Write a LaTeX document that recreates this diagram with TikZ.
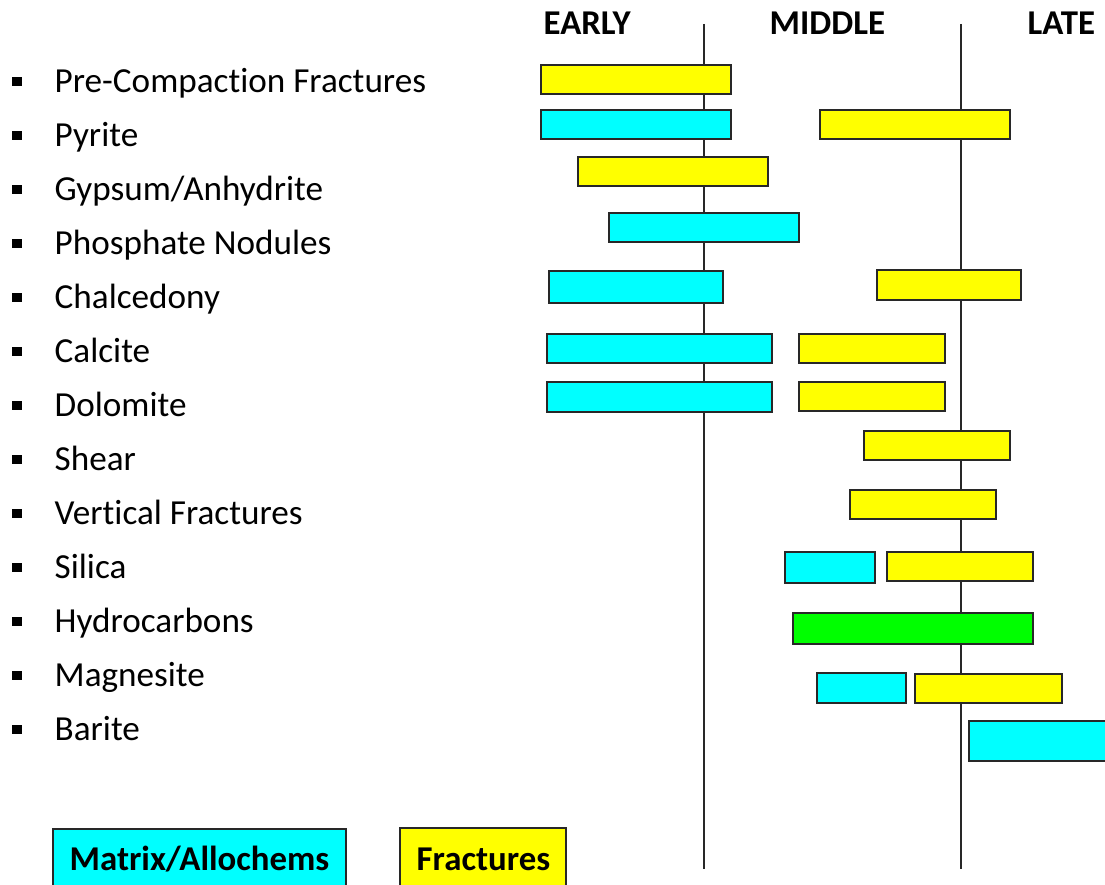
\documentclass[tikz,border=0pt]{standalone}
\usepackage{fontspec}
\setmainfont[Ligatures=NoCommon]{Carlito}
\usepackage{tikz}
\usetikzlibrary{positioning}

\definecolor{matrixcol}{RGB}{0,255,255}
\definecolor{fraccol}{RGB}{255,255,0}
\definecolor{hccol}{RGB}{0,255,0}
\definecolor{edgecol}{RGB}{40,40,40}

\begin{document}
\begin{tikzpicture}[x=0.01cm, y=-0.01cm,
  item/.style={anchor=base west, inner sep=0pt, font=\fontsize{10}{12}\selectfont},
  dot/.style={fill=black, inner sep=0pt, minimum width=0.095cm, minimum height=0.09cm},
  stage/.style={anchor=base west, inner sep=0pt, font=\fontsize{9.9}{12}\selectfont\bfseries},
  bar/.style={draw=edgecol, line width=0.6pt},
  matrixbar/.style={bar, fill=matrixcol},
  fracbar/.style={bar, fill=fraccol},
  hcbar/.style={bar, fill=hccol},
  divider/.style={draw=edgecol, line width=0.6pt}]
\clip (0,0) rectangle (1105,885);

% stage headings and dividers
\node[stage] (early) at (543,35) {EARLY};
\node[stage] (middle) at (769,35) {MIDDLE};
\node[stage] (late) at (1027,35) {LATE};
\coordinate (d1top) at (704,24);
\coordinate (d1bot) at (704,869);
\coordinate (d2top) at (961,24);
\coordinate (d2bot) at (961,869);
\draw[divider] (d1top) -- (d1bot);
\draw[divider] (d2top) -- (d2bot);

% phase list
\node[item] (precomp) at (54,93) {Pre-Compaction Fractures};
\node[item] (pyrite) at (54,147) {Pyrite};
\node[item] (gypsum) at (54,201) {Gypsum/Anhydrite};
\node[item] (phosph) at (54,255) {Phosphate Nodules};
\node[item] (chalc) at (54,309) {Chalcedony};
\node[item] (calcite) at (54,363) {Calcite};
\node[item] (dolo) at (54,417) {Dolomite};
\node[item] (shear) at (54,471) {Shear};
\node[item] (vfrac) at (54,525) {Vertical Fractures};
\node[item] (silica) at (54,579) {Silica};
\node[item] (hydro) at (54,633) {Hydrocarbons};
\node[item] (magn) at (54,687) {Magnesite};
\node[item] (barite) at (54,741) {Barite};
\foreach \n in {precomp,pyrite,gypsum,phosph,chalc,calcite,dolo,shear,vfrac,silica,hydro,magn,barite}
  \node[dot] at ([xshift=-0.37cm, yshift=0.11cm]\n.base west) {};

% timing bars
\draw[fracbar] (541,65) rectangle (731,94);
\draw[matrixbar] (541,110) rectangle (731,139);
\draw[fracbar] (820,110) rectangle (1010,139);
\draw[fracbar] (578,157) rectangle (768,186);
\draw[matrixbar] (609,213) rectangle (799,242);
\draw[matrixbar] (549,271) rectangle (723,303);
\draw[fracbar] (877,270) rectangle (1021,300);
\draw[matrixbar] (547,334) rectangle (772,363);
\draw[fracbar] (799,334) rectangle (945,363);
\draw[matrixbar] (547,382) rectangle (772,412);
\draw[fracbar] (799,382) rectangle (945,411);
\draw[fracbar] (864,431) rectangle (1010,460);
\draw[fracbar] (850,490) rectangle (996,519);
\draw[matrixbar] (785,552) rectangle (875,583);
\draw[fracbar] (887,552) rectangle (1033,581);
\draw[hcbar] (793,613) rectangle (1033,644);
\draw[matrixbar] (817,673) rectangle (906,703);
\draw[fracbar] (915,674) rectangle (1062,703);
\draw[matrixbar] (969,721) rectangle (1115,761);

% key
\draw[matrixbar] (53,829) rectangle (346,900);
\draw[fracbar] (400,828) rectangle (566,900);
\node[stage] (keymatrix) at (69,870) {Matrix/Allochems};
\node[stage] (keyfrac) at (416,870) {Fractures};
\end{tikzpicture}
\end{document}
